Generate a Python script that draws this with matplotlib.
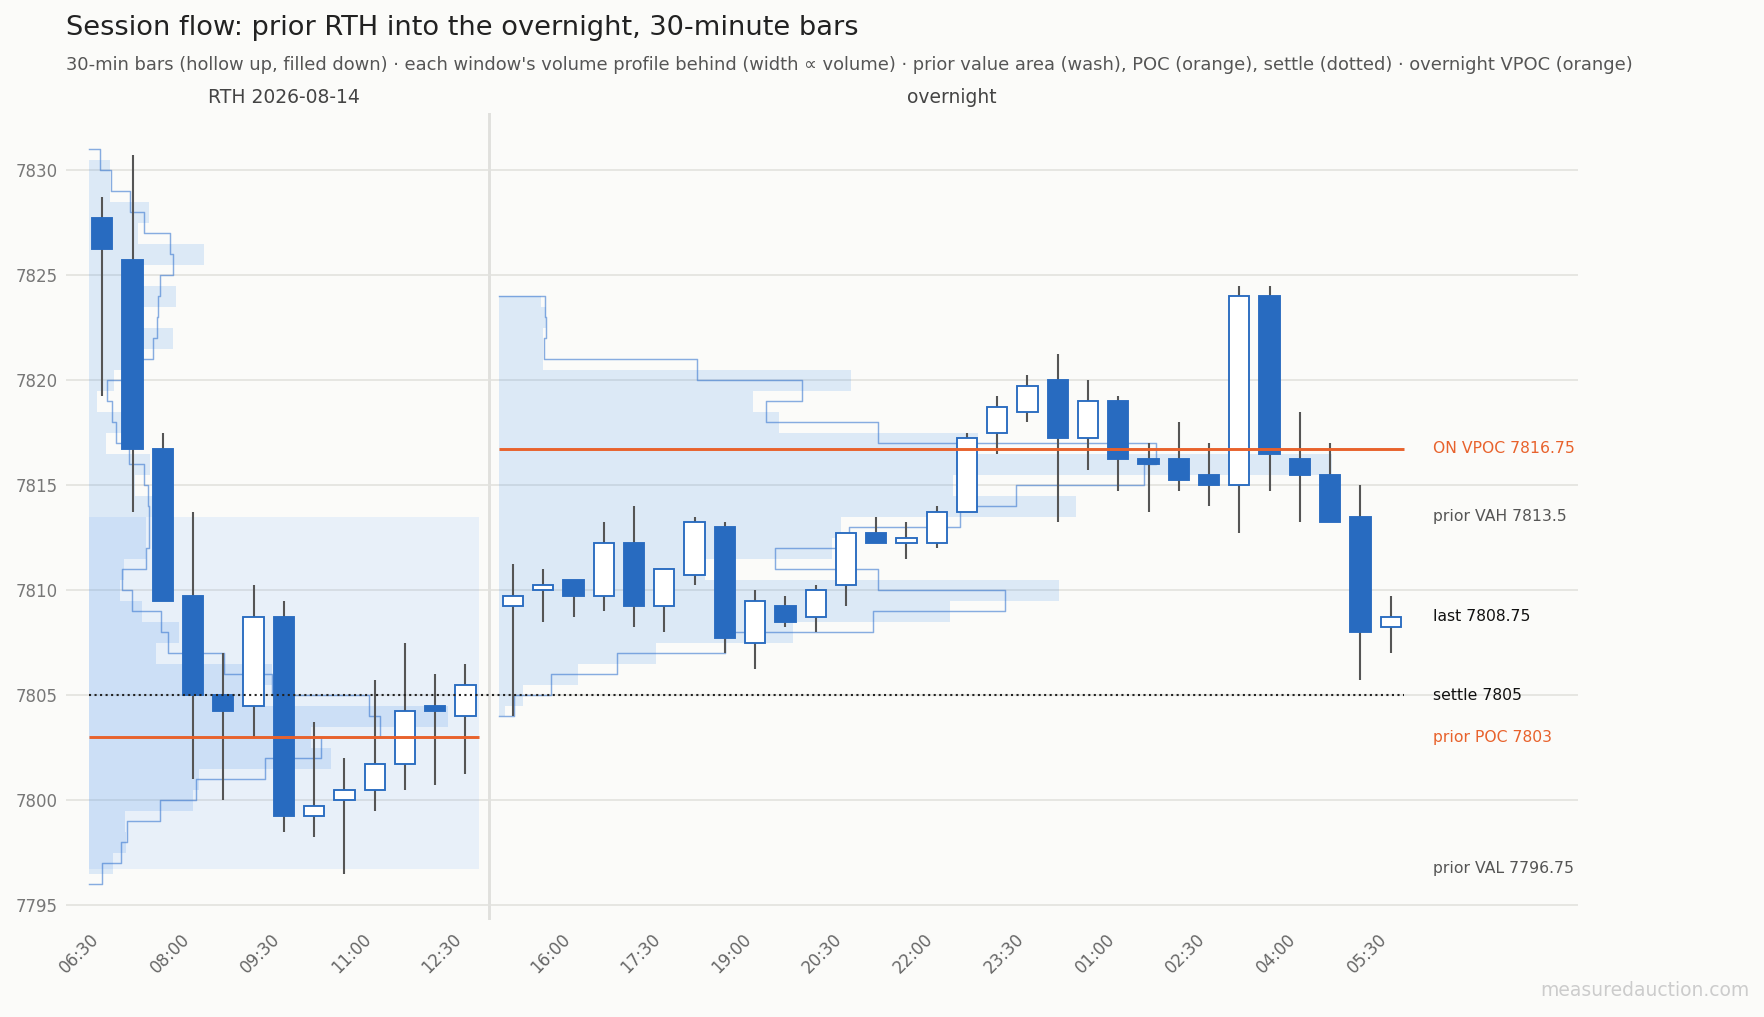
import numpy as np
import matplotlib.pyplot as plt

# prior RTH session, 30-min bars
rth_date = '2026-08-14'
rth_times = ['06:30', '07:00', '07:30', '08:00', '08:30', '09:00', '09:30',
             '10:00', '10:30', '11:00', '11:30', '12:00', '12:30']
rth_open = [7827.75, 7825.75, 7816.75, 7809.75, 7805.0, 7804.5, 7808.75,
            7799.25, 7800.0, 7800.5, 7801.75, 7804.5, 7804.0]
rth_high = [7828.75, 7830.75, 7817.5, 7813.75, 7807.0, 7810.25, 7809.5,
            7803.75, 7802.0, 7805.75, 7807.5, 7806.0, 7806.5]
rth_low = [7819.25, 7813.75, 7809.5, 7801.0, 7800.0, 7803.0, 7798.5,
           7798.25, 7796.5, 7799.5, 7800.5, 7800.75, 7801.25]
rth_close = [7826.25, 7816.75, 7809.5, 7805.0, 7804.25, 7808.75, 7799.25,
             7799.75, 7800.5, 7801.75, 7804.25, 7804.25, 7805.5]

# overnight, 30-min bars
on_times = ['15:00', '15:30', '16:00', '16:30', '17:00', '17:30', '18:00', '18:30',
            '19:00', '19:30', '20:00', '20:30', '21:00', '21:30', '22:00', '22:30',
            '23:00', '23:30', '00:00', '00:30', '01:00', '01:30', '02:00', '02:30',
            '03:00', '03:30', '04:00', '04:30', '05:00', '05:30']
on_open = [7809.25, 7810.0, 7810.5, 7809.75, 7812.25, 7809.25, 7810.75, 7813.0,
           7807.5, 7809.25, 7808.75, 7810.25, 7812.75, 7812.25, 7812.25, 7813.75,
           7817.5, 7818.5, 7820.0, 7817.25, 7819.0, 7816.25, 7816.25, 7815.5,
           7815.0, 7824.0, 7816.25, 7815.5, 7813.5, 7808.25]
on_high = [7811.25, 7811.0, 7810.5, 7813.25, 7814.0, 7811.0, 7813.5, 7813.25,
           7810.0, 7809.75, 7810.25, 7812.75, 7813.5, 7813.25, 7814.0, 7817.5,
           7819.25, 7820.25, 7821.25, 7820.0, 7819.25, 7817.0, 7818.0, 7817.0,
           7824.5, 7824.5, 7818.5, 7817.0, 7815.0, 7809.75]
on_low = [7804.0, 7808.5, 7808.75, 7809.0, 7808.25, 7808.0, 7810.25, 7807.0,
          7806.25, 7808.25, 7808.0, 7809.25, 7812.25, 7811.5, 7812.0, 7813.75,
          7816.5, 7818.0, 7813.25, 7815.75, 7814.75, 7813.75, 7814.75, 7814.0,
          7812.75, 7814.75, 7813.25, 7813.25, 7805.75, 7807.0]
on_close = [7809.75, 7810.25, 7809.75, 7812.25, 7809.25, 7811.0, 7813.25, 7807.75,
            7809.5, 7808.5, 7810.0, 7812.75, 7812.25, 7812.5, 7813.75, 7817.25,
            7818.75, 7819.75, 7817.25, 7819.0, 7816.25, 7816.0, 7815.25, 7815.0,
            7824.0, 7816.5, 7815.5, 7813.25, 7808.0, 7808.75]

# volume profiles: per-price bars and the smoothed outline (lower edge of each 1pt band)
rth_prof_px = np.arange(7797, 7831)
rth_prof_vol = [80, 123, 121, 346, 366, 803, 737, 1190, 550, 607, 224, 300, 178, 105,
                118, 190, 190, 220, 154, 204, 58, 130, 29, 85, 130, 280, 140, 289,
                140, 382, 162, 200, 72, 72]
rth_step_lo = np.arange(7796, 7831)
rth_step_vol = [44, 107, 126, 235, 357, 584, 770, 966, 928, 608, 450, 262, 240, 142,
                112, 190, 200, 200, 195, 182, 132, 90, 76, 60, 140, 212, 228, 230,
                235, 281, 271, 182, 137, 74, 38]
on_prof_px = np.arange(7804, 7825)
on_prof_vol = [17, 77, 261, 518, 970, 1490, 1850, 680, 1100, 1130, 1906, 1500, 2750,
               1580, 924, 838, 1160, 145, 145, 153, 137]
on_step_lo = np.arange(7804, 7824)
on_step_vol = [48, 172, 390, 744, 1233, 1670, 1252, 912, 1154, 1522, 1705, 2130, 2170,
               1252, 882, 1000, 654, 146, 153, 151]

# reference levels
prior_vah = 7813.5
prior_val = 7796.75
prior_poc = 7803
settle = 7805
on_vpoc = 7816.75

BG = '#fbfbf9'
BLUE = '#286bc0'
PROF = '#4591ed'
WASH = '#4a90ff'
ORANGE = '#e8622c'


def draw_candles(ax, x, o, h, l, c):
    o, h, l, c = map(np.asarray, (o, h, l, c))
    ax.vlines(x, l, h, color='#555555', lw=1.0, zorder=3)
    up = c >= o
    bottom = np.minimum(o, c)
    height = np.maximum(np.abs(c - o), 0.08)
    ax.bar(x[up], height[up], bottom=bottom[up], width=0.67, facecolor='white',
           edgecolor=BLUE, lw=0.9, zorder=4)
    ax.bar(x[~up], height[~up], bottom=bottom[~up], width=0.67, facecolor=BLUE,
           edgecolor=BLUE, lw=0.9, zorder=4)


def draw_profile(ax, x0, span, px, vol, step_lo, step_vol):
    scale = 0.92 * span / max(vol)
    lo, hi = step_lo[0], step_lo[-1] + 1
    bot = np.clip(px - 0.5, lo, hi)
    top = np.clip(px + 0.5, lo, hi)
    ax.barh((bot + top) / 2, np.asarray(vol) * scale, height=top - bot, left=x0,
            color=PROF, alpha=0.17, lw=0, zorder=1)
    w = np.asarray(step_vol) * scale
    xs = np.r_[x0, np.repeat(x0 + w, 2), x0]
    ys = np.r_[lo, np.column_stack([step_lo, step_lo + 1]).ravel(), hi]
    ax.plot(xs, ys, color='#3a78d0', lw=0.7, alpha=0.6, zorder=2)


rth_x = np.arange(len(rth_times), dtype=float)
on_x = rth_x[-1] + 1.57 + np.arange(len(on_times))
half = 0.45

fig = plt.figure(figsize=(11.76, 6.78), dpi=150, facecolor=BG)
ax = fig.add_axes([0.0374, 0.0954, 0.857, 0.7935])
ax.set_facecolor(BG)

# prior value area wash
ax.fill_between([rth_x[0] - half, rth_x[-1] + half], prior_val, prior_vah,
                color=WASH, alpha=0.1, lw=0, zorder=0.8)

draw_profile(ax, rth_x[0] - half, rth_x[-1] - rth_x[0] + 2 * half,
             rth_prof_px, rth_prof_vol, rth_step_lo, rth_step_vol)
draw_profile(ax, on_x[0] - half, on_x[-1] - on_x[0] + 2 * half,
             on_prof_px, on_prof_vol, on_step_lo, on_step_vol)

draw_candles(ax, rth_x, rth_open, rth_high, rth_low, rth_close)
draw_candles(ax, on_x, on_open, on_high, on_low, on_close)

# levels
ax.hlines(prior_poc, rth_x[0] - half, rth_x[-1] + half, color=ORANGE, lw=1.4, zorder=5)
ax.hlines(on_vpoc, on_x[0] - half, on_x[-1] + half, color=ORANGE, lw=1.4, zorder=5)
ax.hlines(settle, rth_x[0] - half, on_x[-1] + half, color='#222222', lw=1.0,
          linestyles=':', zorder=5)

sep = ((rth_x[-1] + half) + (on_x[0] - half)) / 2
ax.axvline(sep, color='#e0e0dd', lw=1.4, zorder=0.5)

# right-hand level labels
last = on_close[-1]
lx = on_x[-1] + 1.4
labels = [
    (on_vpoc, 'ON VPOC {:g}'.format(on_vpoc), ORANGE),
    (prior_vah, 'prior VAH {:g}'.format(prior_vah), '#555555'),
    (last, 'last {:g}'.format(last), '#111111'),
    (settle, 'settle {:g}'.format(settle), '#111111'),
    (prior_poc, 'prior POC {:g}'.format(prior_poc), ORANGE),
    (prior_val, 'prior VAL {:g}'.format(prior_val), '#555555'),
]
for y, txt, col in labels:
    ax.text(lx, y, txt, color=col, fontsize=7.5, va='center', ha='left', clip_on=False)

# window labels
tr = ax.get_xaxis_transform()
ax.text(rth_x.mean(), 1.019, 'RTH ' + rth_date, transform=tr, ha='center', va='center',
        fontsize=9, color='#444444')
ax.text(on_x.mean(), 1.019, 'overnight', transform=tr, ha='center', va='center',
        fontsize=9, color='#444444')

# axes styling
all_x = np.r_[rth_x, on_x]
all_t = rth_times + on_times
ax.set_xticks(all_x[::3])
ax.set_xticklabels(all_t[::3], rotation=45, ha='right')
ax.set_yticks(np.arange(7795, 7831, 5))
ax.set_xlim(-1.2, 48.75)
ax.set_ylim(7794.3, 7832.73)
ax.tick_params(axis='both', length=0, labelsize=8)
ax.tick_params(axis='y', pad=4, labelcolor='#777777')
ax.tick_params(axis='x', pad=5, labelcolor='#666666')
ax.yaxis.grid(True, color='#e2e2de', lw=0.8)
ax.set_axisbelow(True)
for s in ax.spines.values():
    s.set_visible(False)

fig.text(0.0374, 0.9725, 'Session flow: prior RTH into the overnight, 30-minute bars',
         fontsize=13.1, color='#222222', va='center', ha='left')
fig.text(0.0374, 0.936,
         '30-min bars (hollow up, filled down) \u00b7 each window\'s volume profile behind '
         '(width \u221d volume) \u00b7 prior value area (wash), POC (orange), settle (dotted) '
         '\u00b7 overnight VPOC (orange)',
         fontsize=8.6, color='#555555', va='center', ha='left')
fig.text(0.9915, 0.0256, 'measuredauction.com', fontsize=9, color='#cccccc',
         ha='right', va='center')

fig.savefig('out.png', dpi=150, facecolor=BG)
